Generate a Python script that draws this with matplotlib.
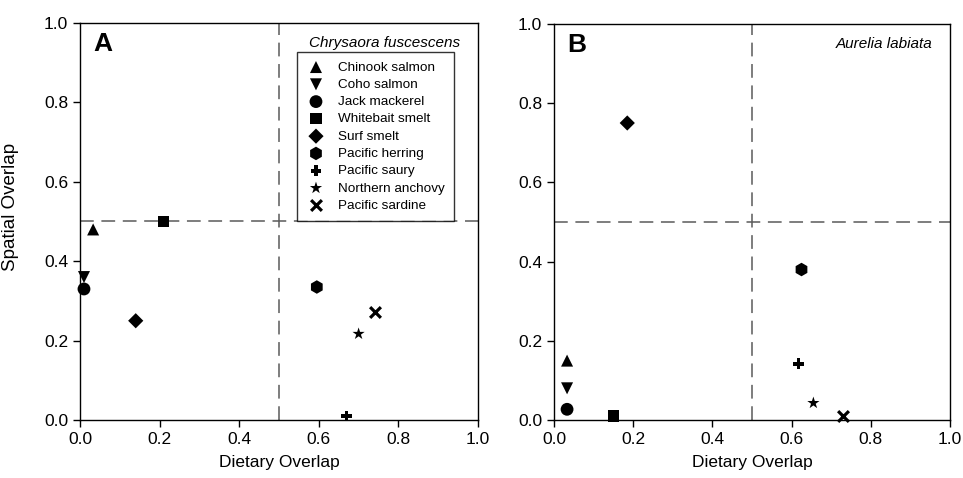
import matplotlib
matplotlib.use("Agg")
import matplotlib.pyplot as plt

plt.rcParams['font.family'] = ['Liberation Sans', 'DejaVu Sans']

species = ["Chinook salmon", "Coho salmon", "Jack mackerel", "Whitebait smelt",
           "Surf smelt", "Pacific herring", "Pacific saury", "Northern anchovy",
           "Pacific sardine"]
markers = ["^", "v", "o", "s", "D", "h", "P", "*", "x"]

# Panel A: Chrysaora fuscescens
diet_A = [0.033, 0.01, 0.01, 0.21, 0.14, 0.595, 0.67, 0.70, 0.74]
spat_A = [0.48, 0.36, 0.33, 0.50, 0.25, 0.335, 0.01, 0.217, 0.272]
# Panel B: Aurelia labiata
diet_B = [0.033, 0.033, 0.033, 0.15, 0.185, 0.625, 0.617, 0.655, 0.73]
spat_B = [0.15, 0.08, 0.027, 0.01, 0.75, 0.38, 0.142, 0.043, 0.01]

ticks = [0.0, 0.2, 0.4, 0.6, 0.8, 1.0]
tick_labels = ["0.0", "0.2", "0.4", "0.6", "0.8", "1.0"]

W, H = 963, 478
fig = plt.figure(figsize=(W / 100, H / 100), dpi=100)
axA = fig.add_axes([80 / W, 1 - 420 / H, 398 / W, 397 / H])
axB = fig.add_axes([554 / W, 1 - 420 / H, 396 / W, 396 / H])

sizes = {"^": 75, "v": 75, "o": 85, "s": 65, "D": 60, "h": 95, "P": 60, "*": 85, "x": 60}

def draw(ax, xs, ys, letter, title, show_legend):
    ax.axvline(0.5, color="#5a5a5a", lw=1.1, ls=(0, (9, 5)), zorder=1)
    ax.axhline(0.5, color="#5a5a5a", lw=1.1, ls=(0, (9, 5)), zorder=1)
    for x, y, m, lab in zip(xs, ys, markers, species):
        if m == "x":
            ax.scatter([x], [y], marker=m, s=sizes[m], color="black", linewidths=2.3,
                       label=lab, zorder=3, clip_on=False)
        else:
            ax.scatter([x], [y], marker=m, s=sizes[m], color="black", edgecolors="none",
                       label=lab, zorder=3, clip_on=False)
    ax.set_xlim(0, 1)
    ax.set_ylim(0, 1)
    ax.set_xticks(ticks)
    ax.set_xticklabels(tick_labels)
    ax.set_yticks(ticks)
    ax.set_yticklabels(tick_labels)
    ax.tick_params(direction="out", length=5, width=1, labelsize=12.5, top=False, right=False)
    for sp in ax.spines.values():
        sp.set_linewidth(1)
    ax.set_xlabel("Dietary Overlap", fontsize=12.5, labelpad=6)
    ax.text(0.033, 0.977, letter, transform=ax.transAxes, fontsize=19, fontweight="bold",
            va="top", ha="left")
    ax.text(0.955, 0.968, title, transform=ax.transAxes, fontsize=11, style="italic",
            va="top", ha="right")
    if show_legend:
        leg = ax.legend(loc="upper right", bbox_to_anchor=(0.94, 0.927), fontsize=9.7,
                        frameon=True, fancybox=False, edgecolor="black", borderpad=0.68,
                        labelspacing=0.36, handletextpad=0.9, handlelength=1.5,
                        scatterpoints=1, borderaxespad=0)
        leg.get_frame().set_linewidth(1)

draw(axA, diet_A, spat_A, "A", "Chrysaora fuscescens", True)
draw(axB, diet_B, spat_B, "B", "Aurelia labiata", False)
axA.set_ylabel("Spatial Overlap", fontsize=13.5)
axA.yaxis.set_label_coords(-61 / 398, (420 - 207) / 397)

fig.savefig("out.png", dpi=100)
